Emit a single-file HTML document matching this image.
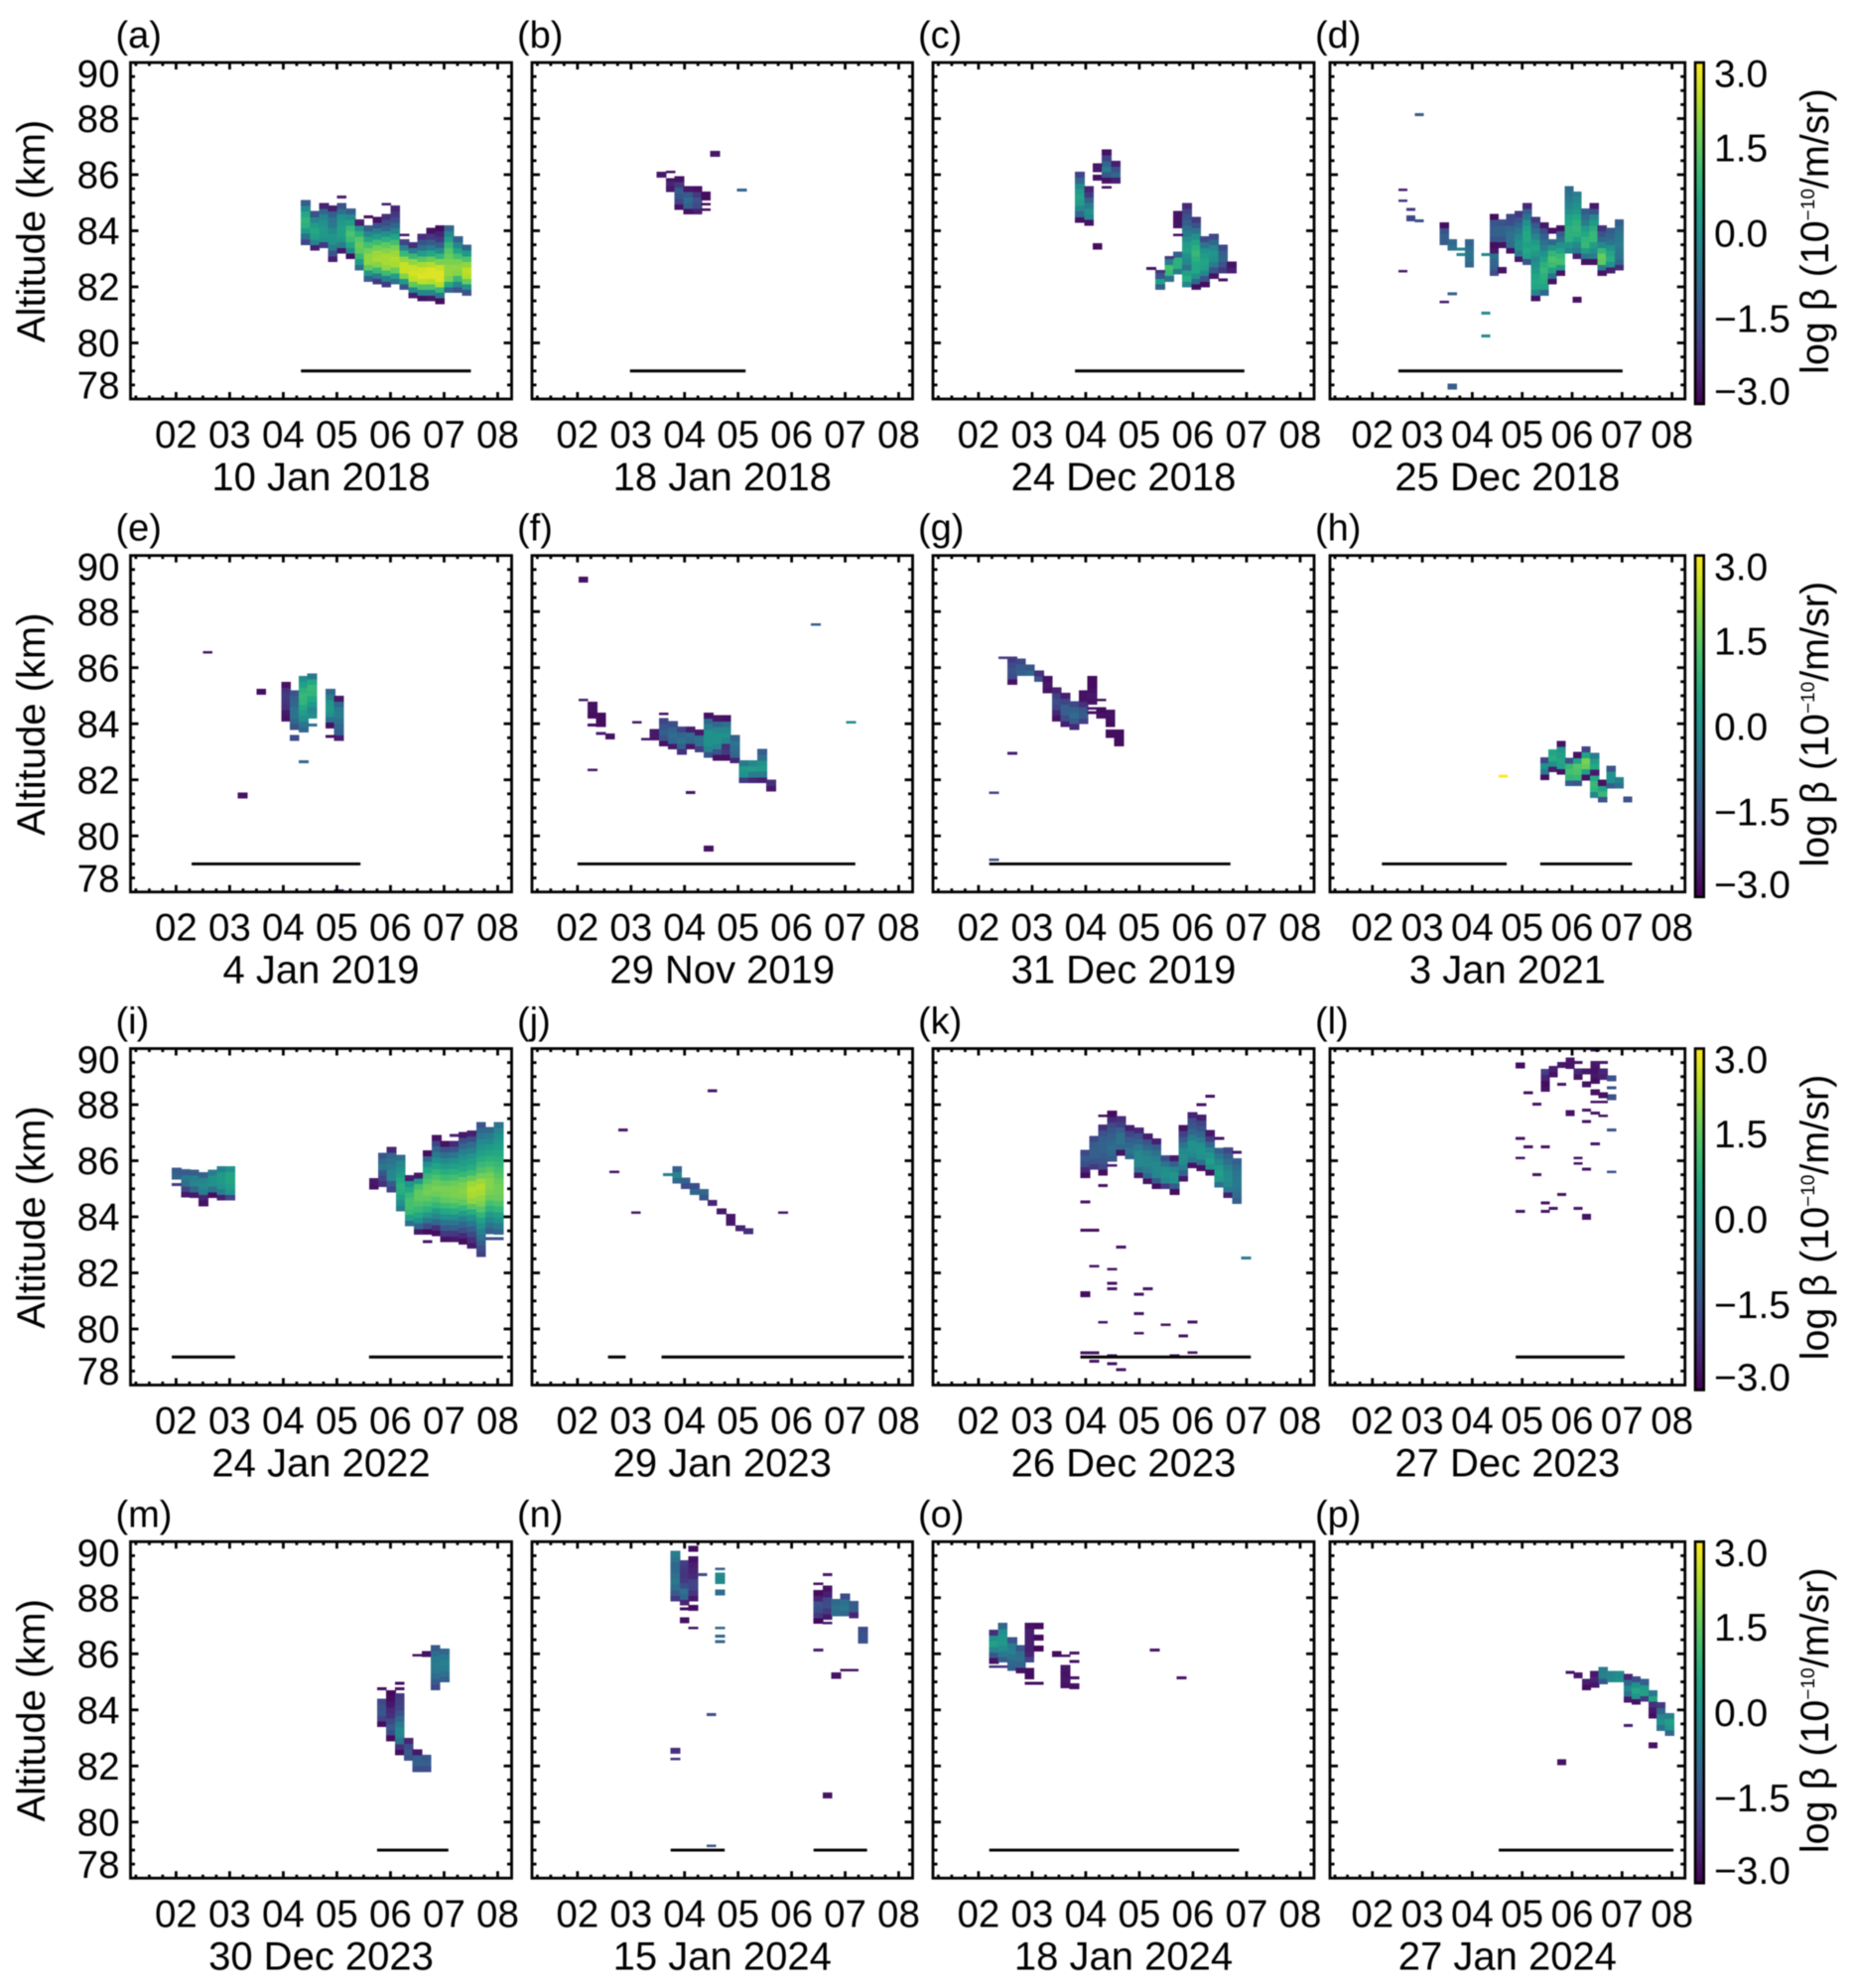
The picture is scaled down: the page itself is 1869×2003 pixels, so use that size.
<!DOCTYPE html>
<html lang="en">
<head>
<meta charset="utf-8">
<title>Backscatter altitude-time panels</title>
<style>
html,body{margin:0;padding:0;background:#fff;}
svg{display:block;filter:blur(0.4px);}
text{font-family:"Liberation Sans",sans-serif;fill:#000;}
</style>
</head>
<body>
<svg id="chart" xmlns="http://www.w3.org/2000/svg" width="1869" height="2003" viewBox="0 0 1869 2003">
<rect x="0" y="0" width="1869" height="2003" fill="#fff"/>
</svg>
<script>
// ---------- shared scales and tick labels ----------
const hourTicks = [2,3,4,5,6,7,8];
const hourTickLabels = ["02","03","04","05","06","07","08"];
const altTicks = [78,80,82,84,86,88,90];
const altTickLabels = ["78","80","82","84","86","88","90"];
const colorTicks = [3,1.5,0,-1.5,-3];
const colorTickLabels = ["3.0","1.5","0.0","\u22121.5","\u22123.0"];
const viridisStops = ["#440154","#482475","#414487","#355f8d","#2a788e","#21918c","#22a884","#44bf70","#7ad151","#bddf26","#fde725"];
const panelLetters = ["a","b","c","d","e","f","g","h","i","j","k","l","m","n","o","p"];
const panelDates = ["10 Jan 2018","18 Jan 2018","24 Dec 2018","25 Dec 2018","4 Jan 2019","29 Nov 2019","31 Dec 2019","3 Jan 2021","24 Jan 2022","29 Jan 2023","26 Dec 2023","27 Dec 2023","30 Dec 2023","15 Jan 2024","18 Jan 2024","27 Jan 2024"];

// ---------- data: columns = [hour, bottom altitude km, [log beta per 0.2 km bin]]
//            specks = [hour, altitude km, log beta]; lines = [start hour, end hour]
const columnsA = [
[4.33,83.5,[-1.8,-0.8,0.2,0.8,0.9,0.6,-0.2,-1.2]],
[4.5,83.3,[-2.5,-0.3,0.4,0.6,0.3,-0.3,-1.5]],
[4.67,83.4,[-2,0,0.2,0.2,0,-0.3,-1,-2.4]],
[4.83,82.9,[-2.5,-1.5,-0.5,0,0.1,-0.2,-0.6,-0.7,-1.2,-2.5]],
[5,83.2,[-2.6,-0.5,0.2,0.4,0.4,0.2,0,-0.8,-1.5]],
[5.17,83,[-2.8,-0.2,0.6,1.1,1.3,1,0.4,-0.2,-1.2]],
[5.33,82.6,[-0.8,0.3,1,1.5,1.6,1.4,0.8,0,-2.5]],
[5.5,82.2,[-1.2,0.2,1.5,2,2,1.7,1.2,0.5,-0.3,-1.2]],
[5.67,82.1,[-2,-0.5,1,1.9,2.2,2.1,1.7,1.1,0.3,-0.5,-1.5,-2.7]],
[5.83,82,[-2,-0.4,1.1,2,2.2,2.2,1.9,1.5,0.8,0,-1,-1.6,-2.2]],
[6,82.1,[-0.8,0.4,1.6,2.2,2.3,2.1,1.8,1.2,0.5,-0.3,-1,-1.6,-2,-2.4]],
[6.17,81.9,[-1.5,0.2,1.9,2.5,2.5,2,1,-0.3,-1.8]],
[6.33,81.6,[-2.5,-0.2,1.5,2.4,2.6,2.5,2,1,-0.5,-2.2]],
[6.5,81.5,[-2.7,-0.3,1.3,2.4,2.7,2.6,2.2,1.4,0.3,-0.8,-1.5,-2.2]],
[6.67,81.5,[-2.6,-0.3,1.3,2.3,2.7,2.7,2.3,1.6,0.6,-0.5,-1.3,-2,-2.7]],
[6.83,81.4,[-2.8,-0.6,1,2.3,2.7,2.7,2.5,1.8,0.9,-0.2,-1.2,-2,-2.4,-2.8]],
[7,81.8,[-1,0.6,1.8,2,2,1.8,1.6,1.4,1,0.4,-0.2,-1]],
[7.17,81.8,[-1.5,-0.3,1,1.9,2,1.8,1.2,0.5,-0.3,-1.2]],
[7.33,81.7,[-1.5,0,1.6,2.3,2.4,2,1.3,0.2,-1]]
];
const specksA = [[5,85.2,-2.5],[5.83,84.95,-2.6],[5.5,84.5,-2.8],[6.17,83.85,-2.6]];
const linesA = [[4.33,7.5]];

const columnsB = [
[3.48,85.9,[-2.6]],
[3.65,85.4,[-2.6,-2.4]],
[3.81,84.75,[-2.7,-1.8,-1.4,-1.3,-2,-2.7]],
[3.98,84.6,[-2.7,-1.2,-0.9,-1.3,-2.6]],
[4.15,84.6,[-2.5,-1.7,-1.5,-2,-2.7]],
[4.31,85.1,[-2.8]],
[4.48,86.65,[-2.6]]
];
const specksB = [[3.65,86.1,-2.7],[3.65,85.82,-2.7],[4.31,85.35,-2.8],[4.31,84.95,-2.8],[4.31,84.75,-2.8],[4.98,85.45,-1.1]];
const linesB = [[2.98,5.14]];

const columnsC = [
[3.8,84.3,[-2.7,-1,-0.3,0.3,0.5,0.3,-0.2,-1,-1.8]],
[3.97,84.2,[-2.7,-0.3,0,-0.5,-1.2,-2,-2.4]],
[4.13,86.1,[-2.6]],
[4.13,85.8,[-2.7]],
[4.13,83.35,[-2.8]],
[4.3,85.7,[-2.7,-1.3,-0.5,-1,-1.8,-2.7]],
[4.47,85.7,[-2.5,-1,-1.5,-2.5]],
[5.3,81.9,[-1.2,0.4,-1.5]],
[5.47,82.2,[-0.8,1,1.2,-0.5]],
[5.63,82.45,[-0.5,0.8,0.8,-1.2]],
[5.63,84.1,[-2.7,-2.7,-2.7]],
[5.8,82,[-0.3,0.7,0.4,-0.8,-0.2,0,0.4,0.3,-0.1,-0.5,-0.8,-1.2,-1.5,-1.8,-2.3]],
[5.97,81.9,[-2.8,-1,0,0.6,0.6,0.8,1,0.8,0.5,0,-0.7,-1.5,-2]],
[6.13,82,[-2.8,-1.5,-0.2,0.4,0.5,0.3,0,-0.7,-1.7]],
[6.3,82.3,[-2.7,-1.5,-0.5,0,0.1,-0.3,-1,-1.7]],
[6.47,82.5,[-2,-1.5,-1,-1.2,-1.7]],
[6.63,82.5,[-2.5,-2.7]]
];
const specksC = [[4.13,86.35,-2.6],[4.3,85.55,-2.8],[5.13,82.65,-2.7],[5.3,82.55,-2.2],[5.47,83.05,-2],[5.63,83.85,-2.8],[6.47,82.25,-2.7]];
const linesC = [[3.8,6.96]];

const columnsD = [
[2.68,84.35,[-1.7]],
[3.35,83.5,[-1.3,-1.2,-1.5,-2.8]],
[3.51,83.3,[-0.8,-1]],
[3.85,82.7,[-1,-0.8,-0.7,-0.9,-1.1]],
[3.51,78.35,[-1.3]],
[4.35,82.4,[-1.6,-1.2,-1,-0.8,-2.6,-2.8,-1.5,-1.2,-1.2,-1.4,-2.8]],
[4.51,82.5,[-2.7]],
[4.51,83.4,[-2.7,-1.4,-1.1,-1.1,-1.5]],
[4.68,83.2,[-2.7,-0.9,-0.8,-0.8,-1,-1.6,-1.7]],
[4.85,82.9,[-2.6,-0.5,0,0,-0.3,-0.6,-1,-1.4,-2]],
[5.01,82.8,[-1.5,0.4,0.6,0.4,0.6,0.6,0.4,0,-0.7,-1.2,-2.3]],
[5.18,81.5,[-2.7,-0.3,0.5,0.6,0.5,0.2,0,-0.2,0.2,0.5,0.2,-0.3,-0.8,-1.3,-2]],
[5.35,81.7,[-1,0.5,0.7,0.8,1,0.8,0.4,0,-0.5,-0.8,-1.2,-1.6,-2.6]],
[5.51,82.1,[-2.7,-0.8,0.4,1.1,1.3,0.9,0.1,-1]],
[5.51,83.9,[-2.7]],
[5.68,82.4,[-2.7,0.2,1.2,1,0.5,0,-0.8,-1.3,-2.7]],
[5.85,83.2,[-0.3,0.1,0.8,0.8,0.8,0.6,0.4,0,-0.3,-0.5,-0.7,-0.9]],
[6.01,83,[-2.5,-0.5,-0.2,0.4,0.8,0.9,0.8,0.6,0.2,0,-0.2,-0.4]],
[6.18,82.8,[-2.7,-0.6,0.3,1,0.9,0.6,0.3,-0.5,-0.9,-1.3]],
[6.35,82.8,[-2.7,-0.5,-0.1,0.3,1,1,0.7,0.2,-0.3,-1.5,-2.6]],
[6.51,82.4,[-2.7,-0.5,1.5,1.6,1,-0.2,-1,-1.5,-2.2]],
[6.68,82.5,[-2.5,0,0.7,0.5,0,-0.7,-1,-1.3]],
[6.85,82.6,[-2.3,-1,-0.7,-0.6,-0.5,-0.6,-0.7,-0.9,-1.2]],
[6.01,81.45,[-2.7]]
];
const specksD = [[2.85,88.14,-1.3],[2.52,85.46,-2.5],[2.52,85.07,-2],[2.68,84.76,-2],[2.85,84.35,-1.5],[2.52,82.56,-2.6],[3.68,83.35,-0.4],[3.68,83.15,-0.3],[3.51,81.75,-1.2],[3.35,81.46,-2.6],[4.18,83.15,-0.2],[4.18,81.06,-0.2],[4.18,80.25,-0.2]];
const linesD = [[2.52,7.01]];

const columnsE = [
[3.96,84.1,[-2.7,-2.6,-2.2,-2.1,-2,-2.2,-2.7]],
[4.12,83.8,[-1.5,-1,-0.7,-0.7,-1,-1.1,-1.4]],
[4.12,83.4,[-1.6]],
[4.29,83.7,[-1,-0.6,0,0.3,0.6,0.9,1,0.8,0.4,-0.1]],
[4.45,84.2,[0,-0.3,0.2,0.6,0.9,1,0.6,-0.6]],
[4.79,83.85,[-2.7]],
[4.79,84.05,[-0.8,0,0.2,0.1,-0.4,-1]],
[4.95,83.4,[-2.5,-1.2,-1,-0.8,-0.5,-0.5,-1,-2.6]],
[3.5,85.05,[-2.8]],
[3.15,81.34,[-2.7]]
];
const specksE = [[2.5,86.55,-2.6],[4.45,83.95,-0.8],[4.79,83.55,-2.7],[4.29,82.64,-1],[4.95,78.05,-2.6]];
const linesE = [[2.29,5.44]];

const columnsF = [
[2.02,89.04,[-2.7]],
[2.19,84.38,[-2.7,-2.7]],
[2.19,84.2,[-2.8]],
[2.35,84.2,[-2.8]],
[2.35,83.9,[-2.8,-2.8]],
[2.52,83.45,[-2.7]],
[3.35,83.42,[-2.6,-2.6]],
[3.52,83.2,[-2.7,-1.5,-1.2,-1.4,-1.8]],
[3.69,83.1,[-2.6,-1,-0.9,-1.1,-1.6]],
[3.86,82.9,[-2.2,-1.2,-0.8,-1,-1.8]],
[4.02,83.1,[-2.6,-1,-0.9,-2.5]],
[4.19,83,[-1.9,-0.8,-0.8,-2.6]],
[4.36,82.8,[-1.5,-0.3,0,0,0,-0.5,-1,-2.7]],
[4.52,82.7,[-2.7,-1.5,-0.3,0,0,-0.3,-1,-2.6]],
[4.69,82.7,[-2.7,-2,-2.2,-0.3,0,-0.3,-0.8,-2.7]],
[4.85,82.6,[-2.4,-1,-0.9,-0.7,-1.1]],
[5.02,81.9,[-2,0,0.2,-0.6]],
[5.19,81.9,[-2.4,-0.5,0.3,-0.3]],
[5.36,81.9,[-2.5,-0.5,0.2,0,-0.8,-1.2]],
[5.53,81.6,[-2.6,-2.2]],
[4.36,79.45,[-2.7]]
];
const specksF = [[6.36,87.54,-1.2],[2.02,84.85,-2.5],[2.19,83.95,-2.8],[2.35,83.65,-2.5],[3.02,84.05,-2.6],[3.52,84.35,-2.7],[3.19,83.45,-2.6],[2.19,82.35,-2.6],[4.02,81.55,-2.7],[7.02,84.05,-0.3]];
const linesF = [[2,7.19]];

const columnsG = [
[2.54,85.4,[-2.7,-1.6,-1.5,-1.7,-2]],
[2.7,85.72,[-1.2,-1.3,-1.7]],
[2.87,85.72,[-1,-1.4]],
[3.04,85.5,[-1.5,-2.2]],
[3.2,85.1,[-2.7,-2.6,-2.7]],
[3.37,84.1,[-2.7,-2.4,-1.8,-1.6,-1.9,-2.4]],
[3.53,83.9,[-2.5,-1.6,-1.2,-1.2,-1.8,-2.5]],
[3.7,83.8,[-2.3,-1.3,-0.9,-1.1,-1.7]],
[3.87,84,[-1.9,-1.3,-1.4,-2.2,-2.7,-2.7]],
[4.03,84.7,[-2.7,-2.6,-2.7]],
[4.03,85.3,[-2.8,-2.8]],
[4.2,84.2,[-2.7,-2.8]],
[4.37,83.9,[-2.8,-2.7,-2.7]],
[4.37,83.5,[-2.8]],
[4.53,83.2,[-2.8,-2.8,-2.8]]
];
const specksG = [[2.37,86.35,-2],[2.54,82.95,-2.5],[2.2,81.54,-1.8],[2.2,79.15,-1.5],[4.2,84.85,-2.7],[4.03,84.55,-2.7],[4.03,84.4,-2.7],[4.37,83.75,-2.8]];
const linesG = [[2.2,6.7]];

const columnsH = [
[5.36,82,[-2.8,-0.6,0,-1.8]],
[5.52,82.28,[-2.5,0,0.7,0.5]],
[5.69,82.19,[-2.7,0.4,0.5,0.4,0.1,-2.7]],
[5.86,81.79,[-1.3,0.9,1.2,1,-1.5]],
[6.02,81.79,[-1.4,1,1.3,1.4,0.5,-2.7]],
[6.19,81.99,[-2.7,0.4,1.6,1.8,0.5,-1.8]],
[6.36,81.37,[-0.3,0.9,1,0.6,-2.6,0.6,0.3,-0.5]],
[6.52,81.2,[-1.5,1,0.5,-2.7]],
[6.69,81.7,[-1.2,0,0,-1.4]],
[6.85,81.7,[-0.8,-0.4]],
[7.02,81.2,[-1.5]]
];
const specksH = [[4.53,82.13,3]];
const linesH = [[2.19,4.69],[5.36,7.2]];

const columnsI = [
[1.92,85.35,[-1.1,-1.3]],
[2.09,84.7,[-2.6,-1.8,-0.8,-0.6,-1.3]],
[2.25,84.69,[-2.6,-1,-0.3,-0.4,-1.2]],
[2.42,84.39,[-2.7,-2.4,-0.5,-0.2,-0.3,-1.1]],
[2.59,84.69,[-2.8,-0.8,0,0,-0.5]],
[2.76,84.6,[-2.5,-0.5,0.1,0.2,0.2,-0.4]],
[2.92,84.6,[-1.8,0.1,0.4,0.5,0.5,0]],
[5.6,84.98,[-2.7,-2.6]],
[5.77,85.08,[-2.2,-1.8,-1.4,-0.6,-0.9,-1.4]],
[5.93,84.89,[-1.8,-1.3,-0.2,-0.3,-0.5,-0.7,-1,-2.4]],
[6.1,84.21,[-0.5,0,0.4,0.7,0.8,0.6,0.3,0,-0.2,-0.8]],
[6.27,83.68,[-0.8,0.4,1,1.2,1.2,1,0.6,0.1,-2.5]],
[6.44,83.38,[-2.6,-1,0,0.6,1,1.3,1.5,1.5,1.2,0.2,-2.6]],
[6.6,83.38,[-2.8,-1.6,-0.6,0.2,0.8,1.2,1.5,1.7,1.6,1.3,1,0.6,0,-1,-2.8]],
[6.77,83.32,[-2.8,-2.2,-1,-0.3,0.3,0.9,1.3,1.6,1.8,1.6,1.3,0.9,0.5,0,-0.5,-1,-1.8,-2.7]],
[6.93,83.11,[-2.7,-2,-1.3,-0.7,0,0.6,1.1,1.5,1.7,1.8,1.5,1.1,0.7,0.3,-0.2,-0.8,-1.5,-2.7]],
[7.1,83.11,[-2.6,-2,-1.2,-0.6,0,0.7,1.2,1.6,1.8,1.8,1.6,1.2,0.8,0.4,0,-0.6,-1.4,-2.3]],
[7.27,83.03,[-2.8,-2.3,-1.6,-1,-0.4,0.3,0.9,1.5,1.8,1.9,1.8,1.5,1,0.6,0.3,0,-0.4,-1,-1.6,-2.6]],
[7.43,82.88,[-2.6,-2.2,-1.7,-1.2,-0.6,0,0.7,1.4,2,2.2,2.3,2.1,1.6,1.1,0.7,0.4,0.1,-0.4,-0.9,-1.6,-2.5]],
[7.6,82.58,[-1.9,-1.6,-1.2,-0.8,-0.4,0,0.4,0.9,1.4,1.8,2,2.2,2.3,2.1,1.7,1.3,1,0.7,0.4,0.1,-0.2,-0.6,-1,-1.4]],
[7.77,83.4,[-1.2,-0.7,-0.3,0.2,0.8,1.2,1.6,1.8,1.9,1.9,1.7,1.4,1.1,0.8,0.5,0.2,-0.2,-0.5,-1]],
[7.93,83.38,[-1,-0.5,0,0.4,0.9,1.3,1.6,1.7,1.7,1.6,1.4,1.2,1,0.8,0.6,0.4,0.2,0,-0.3,-0.7]]
];
const specksI = [[1.92,85.15,-2],[7.77,83.22,-1.5],[7.93,83.22,-1.5],[6.6,83.12,-2.6],[7.1,86.9,-2.4]];
const linesI = [[1.92,3.1],[5.6,8.1]];

const columnsJ = [
[3.77,85.2,[-1,-0.3,-1.2]],
[3.93,85,[-1.6,-1.2]],
[4.1,84.8,[-1,-1.6]],
[4.27,84.6,[-1.4,-1]],
[4.43,84.4,[-2.4]],
[4.6,84.1,[-2.6]],
[4.77,83.7,[-2.6,-2.6]],
[4.95,83.5,[-2.4]],
[5.1,83.4,[-2.2]]
];
const specksJ = [[2.76,87.1,-2.6],[2.6,85.6,-2.7],[3,84.15,-2.6],[4.43,88.5,-2.6],[5.75,84.15,-2.6],[3.6,85.5,-0.5]];
const linesJ = [[2.57,2.9],[3.57,8.1]];

const columnsK = [
[3.9,85.39,[-2.8,-2.3,-1.6,-1.3,-1.7]],
[4.07,85.69,[-2,-1.5,-1.2,-1.2,-1.3,-1.7]],
[4.23,85.49,[-2.8,-1.7,-1.4,-1.3,-1.1,-1.1,-1.2,-1.5,-2.2]],
[4.4,85.98,[-1.3,-1,-0.9,-1,-1.2,-1.4,-1.7,-2.3,-2.8]],
[4.57,86.2,[-2.7,-1,-0.7,-0.8,-1.2,-1.9,-2.2]],
[4.73,86.07,[-1,-0.7,-1,-1.3,-1.8,-2.5]],
[4.9,85.39,[-2.6,-0.8,-0.3,-0.2,-0.3,-0.6,-1.1,-1.5,-2.3]],
[5.07,85.18,[-2.7,-1,-0.5,-0.3,-0.3,-0.5,-1,-1.5,-2.5]],
[5.23,85,[-2.8,-1.3,-0.3,-0.2,-0.2,-0.4,-0.8,-1.3,-2.5]],
[5.4,85,[-2,-0.3,0,-0.1,-0.7,-1.6]],
[5.57,84.8,[-2.8,-1.3,0,0.1,-0.3,-1.2,-2.6]],
[5.73,85.27,[-2.6,-1.1,-0.4,-0.1,-0.1,-0.2,-0.7,-1.3,-1.9,-2.7]],
[5.9,85.74,[-2.7,-0.6,-0.2,0,0,-0.5,-1,-1.4,-1.6,-2.4]],
[6.07,85.65,[-2.7,-0.8,0,0.1,0,-0.5,-1,-1.5,-1.8,-2.5]],
[6.23,85.49,[-2.7,0,0.4,0.1,-0.3,-1,-1.9,-2.6]],
[6.4,85.06,[-0.8,0.2,0.4,0.2,-0.2,-0.6,-1.1]],
[6.57,84.68,[-2.5,-0.6,-0.2,-0.1,-0.2,-0.4,-0.8,-1.2,-1.7]],
[6.73,84.48,[-1.2,-0.9,-0.7,-0.6,-0.6,-0.7,-0.9,-1.2]],
[3.9,81.15,[-2.8]]
];
const specksK = [[4.23,87.6,-2.8],[4.4,85.83,-2.6],[4.23,85.12,-2.7],[3.9,84.53,-2.7],[3.9,83.52,-2.8],[4.07,83.52,-2.8],[4.57,82.92,-2.7],[4.07,82.24,-2.7],[4.4,82.13,-2.7],[4.4,81.63,-2.7],[4.4,81.43,-2.7],[5.07,81.43,-2.7],[4.9,81.24,-2.7],[4.9,80.55,-2.7],[4.23,80.24,-2.7],[5.9,80.25,-2.7],[5.4,80.15,-2.7],[4.9,79.85,-2.7],[5.73,79.75,-2.7],[6.9,82.53,-0.5],[6.07,88,-2.7],[6.23,88.3,-2.8],[6.4,86.8,-2.7],[6.73,86.3,-2.6],[3.9,79.15,-2.7],[4.07,79.15,-2.7],[5.9,79.16,-2.7],[4.4,79.05,-2.7],[5.57,79.05,-2.7],[4.07,78.85,-2.7],[4.4,78.76,-2.7],[4.57,78.55,-2.7]];
const linesK = [[3.9,7.08]];

const columnsL = [
[4.87,89.3,[-2.8]],
[5.37,88.47,[-2.7,-2.8,-2.4,-1.9]],
[5.53,88.98,[-2.7,-2.5]],
[5.7,89.33,[-2.6]],
[5.87,89.28,[-2.7,-2.6]],
[6.03,88.9,[-2.7,-2.3]],
[6.2,89.1,[-2.6]],
[6.2,88.63,[-2.7]],
[6.37,88.75,[-2.8,-2.6,-2.7,-2.6]],
[6.53,88.9,[-2.5,-2.4]],
[6.7,88.17,[-1.5]],
[6.7,88.85,[-1.5]],
[6.37,88.35,[-2.7]],
[6.53,88.25,[-2.7]],
[5.87,87.6,[-2.7]],
[6.2,83.9,[-2.7]]
];
const specksL = [[6.03,89.5,-2.7],[6.53,89.5,-2.6],[5.03,88.42,-2.7],[5.2,88.02,-2.7],[6.37,88.1,-2.7],[6.53,88.1,-2.7],[6.2,87.8,-2.7],[6.37,87.7,-2.7],[6.53,87.6,-2.7],[6.2,87.4,-2.7],[6.7,87.1,-1.5],[4.87,86.8,-2.7],[6.37,86.6,-2.7],[5.03,86.5,-2.7],[5.37,86.5,-2.7],[4.87,86.1,-2.7],[6.03,86.1,-2.7],[6.03,85.9,-2.7],[6.2,85.7,-2.7],[6.7,85.6,-1.5],[5.2,85.5,-2.7],[5.7,84.8,-2.7],[5.37,84.5,-2.7],[5.53,84.3,-2.7],[5.37,84.2,-2.7],[4.87,84.2,-2.7],[6.03,84.3,-2.7],[5.7,88.73,-2.7],[6.37,89.95,-2.6],[6.7,88.6,-1.5]];
const linesL = [[4.87,7.05]];

const columnsM = [
[5.75,83.4,[-2.8,-1.8,-1.4,-1.5,-1.7]],
[5.92,82.9,[-2.8,-1.6,-1.3,-1.7,-2.2,-2.3,-2.6,-2.8,-2.9]],
[6.08,82.39,[-2.8,-2.2,-0.7,-0.3,-0.2,-0.5,-1,-1.5,-1.8,-1.9,-2]],
[6.25,82.2,[-1.5,-1.3,-1.6,-2.4]],
[6.41,81.8,[-1.6,-1.2,-1.2,-2.6]],
[6.58,81.8,[-1.6,-1.2,-1.4]],
[6.58,85.9,[-2.7]],
[6.75,84.71,[-1.7,-1.3,-0.9,-0.6,-0.5,-0.6,-0.9,-1.3]],
[6.92,84.99,[-1.2,-0.8,-0.5,-0.4,-0.6,-1]]
];
const specksM = [[5.75,84.75,-2.8],[6.08,84.95,-2.8],[6.08,84.75,-2.8],[6.41,85.95,-2.7]];
const linesM = [[5.75,7.08]];

const columnsN = [
[3.74,87.88,[-2,-1.3,-0.9,-0.6,-0.8,-1,-1,-0.7,-0.5]],
[3.91,87.74,[-2.4,-1,-0.8,-1.6,-2,-2.1,-2,-1.9]],
[4.07,89.65,[-2.8]],
[4.07,87.88,[-2.6,-2.1,-1.8,-1.8,-2.3,-2.4,-2.5,-2.7]],
[4.07,87.55,[-2.8]],
[4.57,88.5,[-0.2,-0.2]],
[4.57,88.1,[-0.9]],
[3.91,87.1,[-2.7]],
[3.74,82.45,[-2.2]],
[6.41,87.08,[-2.9,-2,-1.6,-1.5,-2.4,-2.8]],
[6.58,87.23,[-2.6,-2,-1.6,-1.7,-2.5,-2.7]],
[6.74,87.35,[-0.9,-0.8,-1]],
[6.91,87.35,[-1,-0.6,-0.8,-1.6]],
[7.07,87.29,[-2.4,-1.3,-1.3]],
[7.24,86.37,[-1.5,-1.5,-1.6]],
[6.74,85.13,[-2.7]],
[6.58,80.86,[-2.7]]
];
const specksN = [[3.91,87.6,-2.8],[4.07,86.92,-2.7],[4.24,88.83,-1.7],[4.57,89.03,-1.1],[4.57,86.92,-1],[4.57,86.63,-1],[4.57,86.43,-1],[4.41,83.83,-1.6],[3.74,82.25,-2.2],[4.41,79.15,-1.4],[6.41,88.5,-2.8],[6.58,88.83,-2.6],[6.58,87.1,-2.6],[6.41,86.13,-2.5],[6.91,85.42,-2.7],[7.07,85.42,-2.7]];
const linesN = [[3.74,4.75],[6.41,7.41]];

const columnsO = [
[2.2,85.66,[-2.7,-1.4,-0.3,0.4,0,-2.2]],
[2.36,85.7,[-1.2,-0.6,-0.1,0.2,0.1,-0.1,-1]],
[2.54,85.4,[-1.2,-1,-0.7,-0.4,-0.5,-1.5]],
[2.7,85.32,[-2.7,-1.1,-0.8,-0.9,-1.4]],
[2.86,85.7,[-1.8,-2.4,-2.5,-2.5,-2.5,-2.5,-2.7]],
[2.86,85.1,[-2.8,-2.8]],
[3.03,86.9,[-2.8]],
[3.03,86.49,[-2.8]],
[3.03,86.1,[-2.9]],
[3.37,85.9,[-2.8]],
[3.53,85.2,[-2.7,-2.6]],
[3.53,84.78,[-2.7,-2.6]],
[3.7,84.75,[-2.7]]
];
const specksO = [[2.2,85.54,-2.2],[2.36,85.54,-2.2],[2.86,84.95,-2.8],[3.03,84.95,-2.8],[3.53,85.93,-2.7],[3.7,86.03,-2.7],[3.7,85.73,-2.7],[3.7,85.14,-2.7],[5.2,86.13,-2.7],[5.7,85.14,-2.7]];
const linesO = [[2.2,6.86]];

const columnsP = [
[5.7,82.04,[-2.7]],
[6.03,85.14,[-2.6]],
[6.2,84.71,[-2.8,-2.5]],
[6.36,84.8,[-2.6,-2.4,-2.6]],
[6.53,84.93,[-1.4,-0.4,-0.5]],
[6.7,85,[-0.2,-0.3]],
[6.86,85,[0,-0.1]],
[7.03,84.28,[-2.6,-0.7,-0.2,-1,-2.4]],
[7.19,84.2,[-2.7,0.1,0.6,0,-1.6]],
[7.36,84.3,[-2,0.4,0.2,-1.2]],
[7.53,83.7,[-2.8,-2.6,-2.2,0.5,-0.6]],
[7.69,83.27,[-0.8,0,-0.3,-1,-2]],
[7.86,83.08,[-1,0.1,0.4,-0.4]],
[7.53,82.64,[-2.7]]
];
const specksP = [[5.87,85.34,-2.7],[7.03,83.44,-2.5]];
const linesP = [[4.53,8.03]];

const panelColumns = [columnsA,columnsB,columnsC,columnsD,columnsE,columnsF,columnsG,columnsH,columnsI,columnsJ,columnsK,columnsL,columnsM,columnsN,columnsO,columnsP];
const panelSpecks = [specksA,specksB,specksC,specksD,specksE,specksF,specksG,specksH,specksI,specksJ,specksK,specksL,specksM,specksN,specksO,specksP];
const panelLines = [linesA,linesB,linesC,linesD,linesE,linesF,linesG,linesH,linesI,linesJ,linesK,linesL,linesM,linesN,linesO,linesP];

// ---------- layout and scale settings ----------
const colLeft = [131.5,536,940,1340];
const colRight = [515.5,919.5,1324,1697.7];
const rowTop = [63,559.7,1056.5,1553.3];
const plotHeight = 339;
const hourMin = 1.15, hourMax = 8.26, altMin = 78, altMax = 90;
const columnHours = 1/6, binKm = 0.2, speckKm = 0.1;
const NS = "http://www.w3.org/2000/svg";
const chart = document.getElementById("chart");

function svgEl(parent, tag, attrs, content) {
  const node = document.createElementNS(NS, tag);
  for (const key in attrs) node.setAttribute(key, attrs[key]);
  if (content !== undefined) node.textContent = content;
  parent.appendChild(node);
  return node;
}
function betaColor(v) {
  const clamped = Math.max(-3, Math.min(3, v));
  const pos = (clamped + 3) / 6 * (viridisStops.length - 1);
  const i = Math.min(viridisStops.length - 2, Math.floor(pos));
  const f = pos - i;
  const a = viridisStops[i], b = viridisStops[i + 1];
  const ch = (hex, s) => parseInt(hex.substr(s, 2), 16);
  const mix = s => Math.round(ch(a, s) + (ch(b, s) - ch(a, s)) * f);
  return "rgb(" + mix(1) + "," + mix(3) + "," + mix(5) + ")";
}
function drawTick(parent, x1, y1, x2, y2) {
  const t = svgEl(parent, "line", {x1:x1, y1:y1, x2:x2, y2:y2, stroke:"#000", "stroke-width":2.8});
  
  
}

panelLetters.forEach(function (letter, idx) {
  const col = idx % 4, row = Math.floor(idx / 4);
  const left = colLeft[col], right = colRight[col], top = rowTop[row], bottom = top + plotHeight;
  const xScale = h => left + (h - hourMin) / (hourMax - hourMin) * (right - left);
  const yScale = a => bottom - (a - altMin) / (altMax - altMin) * plotHeight;

  const g = svgEl(chart, "g", {});
  
  

  const cells = svgEl(g, "g", {"shape-rendering":"crispEdges"});
  
  

  panelColumns[idx].forEach(function (column) {
    const x0 = xScale(column[0]), x1 = xScale(column[0] + columnHours);
    column[2].forEach(function (value, k) {
      const low = column[1] + k * binKm;
      const y0 = yScale(low + binKm), y1 = yScale(low);
      const cell = svgEl(cells, "rect", {x:x0, y:y0, width:x1 - x0 + 0.8, height:y1 - y0 + 0.4, fill:betaColor(value)});
      
      
    });
  });
  panelSpecks[idx].forEach(function (speck) {
    const x0 = xScale(speck[0]), x1 = xScale(speck[0] + columnHours);
    const y0 = yScale(speck[1] + speckKm / 2), y1 = yScale(speck[1] - speckKm / 2);
    const cell = svgEl(cells, "rect", {x:x0, y:y0, width:x1 - x0 + 0.8, height:y1 - y0, fill:betaColor(speck[2])});
    
    
  });

  panelLines[idx].forEach(function (seg) {
    const bar = svgEl(g, "line", {x1:xScale(seg[0]), x2:xScale(seg[1]), y1:yScale(79), y2:yScale(79), stroke:"#000", "stroke-width":2.9});
    
    
  });

  // ticks
  for (let q = 5; q <= 33; q++) {
    const h = q / 4, x = xScale(h);
    if (x <= left + 1 || x >= right - 1) continue;
    const len = q % 4 === 0 ? 7 : 3.5;
    drawTick(g, x, top, x, top + len);
    drawTick(g, x, bottom, x, bottom - len);
  }
  for (let q = altMin * 2 + 1; q < altMax * 2; q++) {
    const a = q / 2, y = yScale(a);
    const len = q % 4 === 0 ? 8 : 4.5;
    drawTick(g, left, y, left + len, y);
    drawTick(g, right, y, right - len, y);
  }

  const frame = svgEl(g, "rect", {x:left, y:top, width:right - left, height:plotHeight, fill:"none", stroke:"#000", "stroke-width":2.8});
  
  

  // hour labels
  hourTicks.forEach(function (h, k) {
    const label = svgEl(g, "text", {x:xScale(h), y:top + 388, "font-size":38.5, "text-anchor":"middle"}, hourTickLabels[k]);
    
    
  });

  const date = svgEl(g, "text", {x:(left + right) / 2, y:top + 431, "font-size":40, "text-anchor":"middle"}, panelDates[idx]);
  
  

  const tag = svgEl(g, "text", {x:left - 15, y:top - 15, "font-size":38}, "(" + letter + ")");
  
  

  if (col === 0) {
    altTicks.forEach(function (a, k) {
      const shift = a === altMax ? 11 : (a === altMin ? -14 : 0);
      const label = svgEl(g, "text", {x:left - 11, y:yScale(a) + shift + 13.7, "font-size":38.5, "text-anchor":"end"}, altTickLabels[k]);
      
      
    });
    const title = svgEl(g, "text", {x:0, y:0, "font-size":40, "text-anchor":"middle", transform:"translate(45," + (top + 170) + ") rotate(-90)"}, "Altitude (km)");
    
    
  }

  if (col === 3) {
    const barLeft = 1708, barWidth = 8.7, barHeight = 344;
    const barY = v => top + (3 - v) / 6 * barHeight;
    const bar = svgEl(g, "g", {"shape-rendering":"crispEdges"});
    
    
    for (let n = 0; n < 120; n++) {
      const v = -3 + n * 0.05;
      const seg = svgEl(bar, "rect", {x:barLeft, y:barY(v + 0.05), width:barWidth, height:barY(v) - barY(v + 0.05) + 0.5, fill:betaColor(v + 0.025)});
      
      
    }
    const border = svgEl(g, "rect", {x:barLeft, y:top, width:barWidth, height:barHeight, fill:"none", stroke:"#000", "stroke-width":2.6});
    
    
    colorTicks.forEach(function (v, k) {
      const shift = v === 3 ? 11 : (v === -3 ? -13 : 0);
      const label = svgEl(g, "text", {x:1727, y:barY(v) + shift + 13.7, "font-size":39}, colorTickLabels[k]);
      
      
    });
    const cbTitle = svgEl(g, "text", {x:0, y:0, "font-size":39.5, "text-anchor":"middle", transform:"translate(1842," + (top + 170) + ") rotate(-90)"});
    
    
    svgEl(cbTitle, "tspan", {}, "log \u03B2 (10");
    svgEl(cbTitle, "tspan", {"font-size":19, dy:-14}, "\u221210");
    svgEl(cbTitle, "tspan", {dy:14}, "/m/sr)");
  }
});
</script>
</body>
</html>
